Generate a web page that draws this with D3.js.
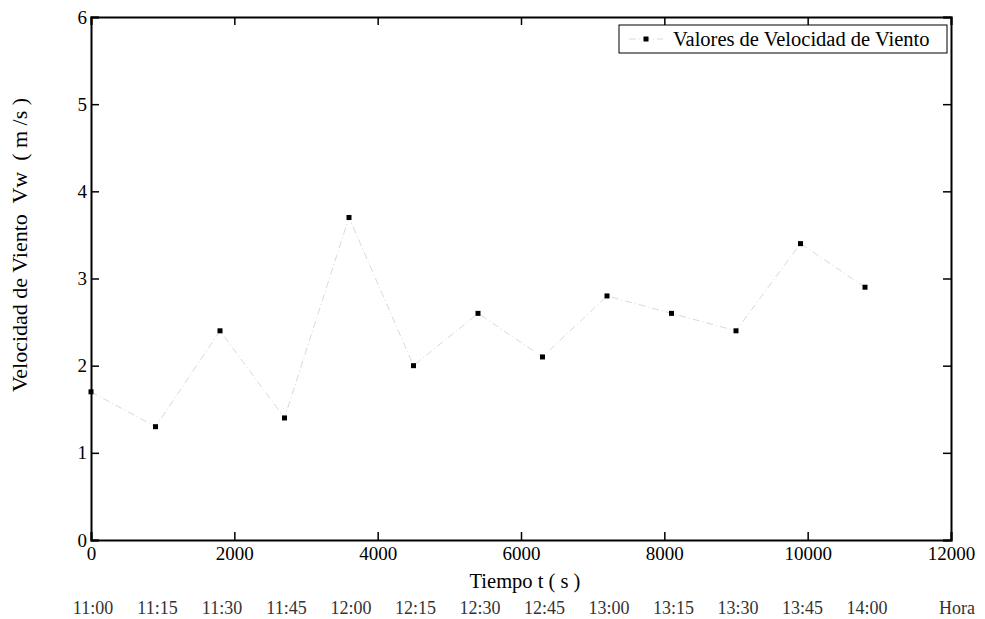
<!DOCTYPE html>
<html lang="es">
<head>
<meta charset="UTF-8">
<script src="https://d3js.org/d3.v7.min.js"></script>
<title>Velocidad de Viento</title>
<style>
    body { margin: 0; background: #fff; }
    text { font-family: "Liberation Serif", "Times New Roman", serif; fill: #000; }
</style>
</head>
<body>
<div id="chart"></div>
<script>
    // datos
    const tiempos = [0, 900, 1800, 2700, 3600, 4500, 5400, 6300, 7200, 8100, 9000, 9900, 10800];
    const velocidades = [1.7, 1.3, 2.4, 1.4, 3.7, 2.0, 2.6, 2.1, 2.8, 2.6, 2.4, 3.4, 2.9];
    const horas = ["11:00", "11:15", "11:30", "11:45", "12:00", "12:15", "12:30", "12:45", "13:00", "13:15", "13:30", "13:45", "14:00"];
    const xTicks = [0, 2000, 4000, 6000, 8000, 10000, 12000];
    const yTicks = [0, 1, 2, 3, 4, 5, 6];

    const width = 985, height = 619;
    const margin = {top: 17, right: 34, bottom: 79, left: 91};

    const svg = d3.select("#chart").append("svg")
        .attr("width", width)
        .attr("height", height);

    const x = d3.scaleLinear().domain([0, 12000]).range([margin.left, width - margin.right]);
    const y = d3.scaleLinear().domain([0, 6]).range([height - margin.bottom, margin.top]);

    const tickLen = 8;

    // ejes con ticks hacia dentro
    const axBottom = svg.append("g")
        .attr("transform", `translate(0,${y(0)})`)
        .call(d3.axisBottom(x).tickValues(xTicks).tickSize(-tickLen).tickPadding(7).tickFormat(d3.format("d")));
    const axTop = svg.append("g")
        .attr("transform", `translate(0,${y(6)})`)
        .call(d3.axisTop(x).tickValues(xTicks).tickSize(-tickLen).tickFormat(""));
    const axLeft = svg.append("g")
        .attr("transform", `translate(${x(0)},0)`)
        .call(d3.axisLeft(y).tickValues(yTicks).tickSize(-tickLen).tickPadding(4).tickFormat(d3.format("d")));
    const axRight = svg.append("g")
        .attr("transform", `translate(${x(12000)},0)`)
        .call(d3.axisRight(y).tickValues(yTicks).tickSize(-tickLen).tickFormat(""));

    [axBottom, axTop, axLeft, axRight].forEach(g => {
        g.attr("font-family", null);
        g.select(".domain").attr("stroke", "#000").attr("stroke-width", 2);
        g.selectAll(".tick line").attr("stroke", "#000").attr("stroke-width", 1.5);
        g.selectAll(".tick text").style("font-size", "19px").attr("fill", "#000");
    });

    // linea de datos
    const line = d3.line()
        .x((d, i) => x(tiempos[i]))
        .y(d => y(d));

    svg.append("path")
        .datum(velocidades)
        .attr("d", line)
        .attr("fill", "none")
        .attr("stroke", "#d9d9d9")
        .attr("stroke-width", 1)
        .attr("stroke-dasharray", "7,3,1,3");

    svg.selectAll("rect.marker")
        .data(velocidades)
        .enter()
        .append("rect")
        .attr("class", "marker")
        .attr("x", (d, i) => x(tiempos[i]) - 2.5)
        .attr("y", d => y(d) - 2.5)
        .attr("width", 5)
        .attr("height", 5)
        .attr("fill", "#000");

    // titulos de ejes
    svg.append("text")
        .attr("x", (x(0) + x(12000)) / 2 + 4)
        .attr("y", 588)
        .attr("text-anchor", "middle")
        .style("font-size", "20.5px")
        .text("Tiempo t ( s )");

    svg.append("text")
        .attr("transform", "translate(27,245) rotate(-90)")
        .attr("text-anchor", "middle")
        .style("font-size", "22px")
        .style("white-space", "pre")
        .attr("xml:space", "preserve")
        .text("Velocidad de Viento  Vw  ( m /s )");

    // fila de horas
    svg.selectAll("text.hora")
        .data(horas)
        .enter()
        .append("text")
        .attr("class", "hora")
        .attr("x", (d, i) => x(tiempos[i]) + 2)
        .attr("y", 614)
        .attr("text-anchor", "middle")
        .style("font-size", "18px")
        .style("fill", "#333")
        .text(d => d);

    svg.append("text")
        .attr("x", x(12000) + 6)
        .attr("y", 614)
        .attr("text-anchor", "middle")
        .style("font-size", "18px")
        .style("fill", "#333")
        .text("Hora");

    // leyenda
    const legend = svg.append("g").attr("transform", "translate(619,25)");
    legend.append("rect")
        .attr("width", 328)
        .attr("height", 28)
        .attr("fill", "#fff")
        .attr("stroke", "#000")
        .attr("stroke-width", 1);
    legend.append("line")
        .attr("x1", 10).attr("x2", 44)
        .attr("y1", 14).attr("y2", 14)
        .attr("stroke", "#d9d9d9")
        .attr("stroke-dasharray", "7,3,1,3");
    legend.append("rect")
        .attr("x", 27 - 2.5)
        .attr("y", 14 - 2.5)
        .attr("width", 5).attr("height", 5)
        .attr("fill", "#000");
    legend.append("text")
        .attr("x", 54)
        .attr("y", 21)
        .style("font-size", "20.5px")
        .text("Valores de Velocidad de Viento");
</script>
</body>
</html>
